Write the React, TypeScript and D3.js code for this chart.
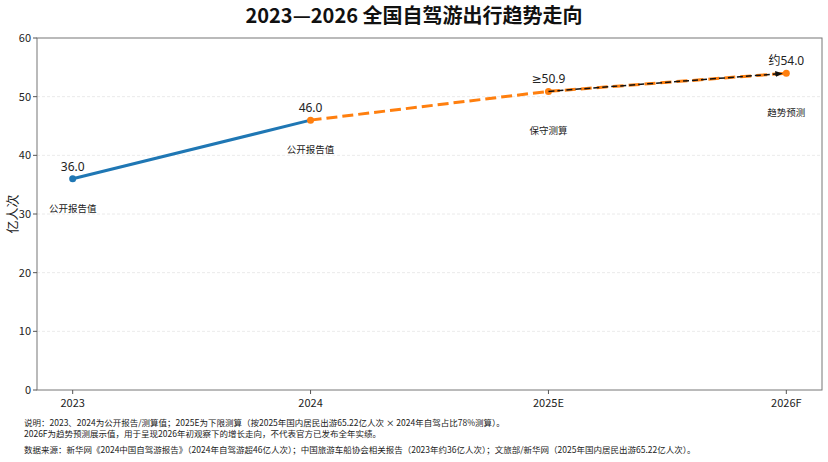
import React from 'react';
import * as d3 from 'd3';

const periods = ['2023', '2024', '2025E', '2026F'];
const trips = [36.0, 46.0, 50.9, 54.0];
const valueLabels = ['36.0', '46.0', '≥50.9', '约54.0'];
const noteLabels = ['公开报告值', '公开报告值', '保守测算', '趋势预测'];
const yTicks = [0, 10, 20, 30, 40, 50, 60];
const footnotes = [
  '说明：2023、2024为公开报告/测算值；2025E为下限测算（按2025年国内居民出游65.22亿人次 × 2024年自驾占比78%测算）。',
  '2026F为趋势预测展示值，用于呈现2026年初观察下的增长走向，不代表官方已发布全年实绩。',
];
const sourceNote = '数据来源：新华网《2024中国自驾游报告》（2024年自驾游超46亿人次）；中国旅游车船协会相关报告（2023年约36亿人次）；文旅部/新华网（2025年国内居民出游65.22亿人次）。';

const W = 828, H = 462;
const margin = { top: 38, right: 6, bottom: 72, left: 37 };
const font = '"Noto Sans CJK SC", "Noto Sans", sans-serif';
const labelFont = '"Noto Sans", "DejaVu Sans", "Noto Sans CJK SC", sans-serif';

export default function App() {
  const x = d3.scalePoint<string>()
    .domain(periods)
    .range([margin.left, W - margin.right])
    .padding(0.15);

  const y = d3.scaleLinear()
    .domain([0, 60])
    .range([H - margin.bottom, margin.top]);

  const pts = periods.map((p, i) => [x(p) as number, y(trips[i])] as [number, number]);
  const line = d3.line();

  const actual = line(pts.slice(0, 2)) as string;
  const forecast = line(pts.slice(1)) as string;

  // arrow from the 2025E estimate toward the 2026F projection, stopping short of the dot
  const [ax, ay] = pts[2];
  const [bx, by] = pts[3];
  const len = Math.hypot(bx - ax, by - ay);
  const ex = bx - ((bx - ax) / len) * 5;
  const ey = by - ((by - ay) / len) * 5;

  const noteOffset = [30, 30, 39, 39];
  const x0 = margin.left, x1 = W - margin.right;
  const y0 = H - margin.bottom, y1 = margin.top;

  return (
    <svg width={W} height={H} style={{ position: 'absolute', left: 0, top: 0, background: '#fff' }} fontFamily={font}>
      <defs>
        <marker id="arrowhead" viewBox="0 0 10 10" refX="8" refY="5" markerWidth="5" markerHeight="5" orient="auto">
          <path d="M0,1 L10,5 L0,9 z" fill="#111" />
        </marker>
      </defs>

      <text x={W / 2} y={23} textAnchor="middle" fontSize={20} fontWeight={700} fill="#111">
        2023—2026 全国自驾游出行趋势走向
      </text>

      {/* grid */}
      {yTicks.filter(t => t > 0 && t < 60).map(t => (
        <line key={t} x1={x0} x2={x1} y1={y(t)} y2={y(t)} stroke="#e4e4e4" strokeWidth={0.8} strokeDasharray="3,2" />
      ))}

      {/* frame */}
      <rect x={x0} y={y1} width={x1 - x0} height={y0 - y1} fill="none" stroke="#777" strokeWidth={1} />

      {/* y axis */}
      {yTicks.map(t => (
        <g key={t}>
          <line x1={x0 - 4} x2={x0} y1={y(t)} y2={y(t)} stroke="#555" />
          <text x={x0 - 6} y={y(t)} dy="0.35em" textAnchor="end" fontSize={11} fill="#222">{t}</text>
        </g>
      ))}
      <text transform={`translate(12,${(y0 + y1) / 2}) rotate(-90)`} dy="0.35em" textAnchor="middle" fontSize={13} fill="#222">亿人次</text>

      {/* x axis */}
      {periods.map(p => (
        <g key={p}>
          <line x1={x(p)} x2={x(p)} y1={y0} y2={y0 + 4} stroke="#555" />
          <text x={x(p)} y={y0 + 17} textAnchor="middle" fontSize={11} fill="#222">{p}</text>
        </g>
      ))}

      {/* series */}
      <path d={actual} fill="none" stroke="#1f77b4" strokeWidth={3} strokeLinecap="round" />
      <path d={forecast} fill="none" stroke="#ff7f0e" strokeWidth={3} strokeDasharray="11,5" />
      <circle cx={pts[0][0]} cy={pts[0][1]} r={3.5} fill="#1f77b4" />
      {pts.slice(1).map((p, i) => (
        <circle key={i} cx={p[0]} cy={p[1]} r={3.5} fill="#ff7f0e" />
      ))}
      <line x1={ax} y1={ay} x2={ex} y2={ey} stroke="#111" strokeWidth={1.5} strokeDasharray="6,3" markerEnd="url(#arrowhead)" />

      {/* labels */}
      {pts.map((p, i) => (
        <g key={i}>
          <text x={p[0]} y={p[1] - 8} textAnchor="middle" fontSize={12} fill="#222" fontFamily={labelFont}>{valueLabels[i]}</text>
          <text x={p[0]} y={p[1] + noteOffset[i]} dy="0.35em" textAnchor="middle" fontSize={9.5} fill="#222">{noteLabels[i]}</text>
        </g>
      ))}

      {/* footnotes */}
      {footnotes.map((f, i) => (
        <text key={i} x={24} y={426 + i * 11} fontSize={8.5} fill="#222">{f}</text>
      ))}
      <text x={24} y={453} fontSize={8.5} fill="#222">{sourceNote}</text>
    </svg>
  );
}
